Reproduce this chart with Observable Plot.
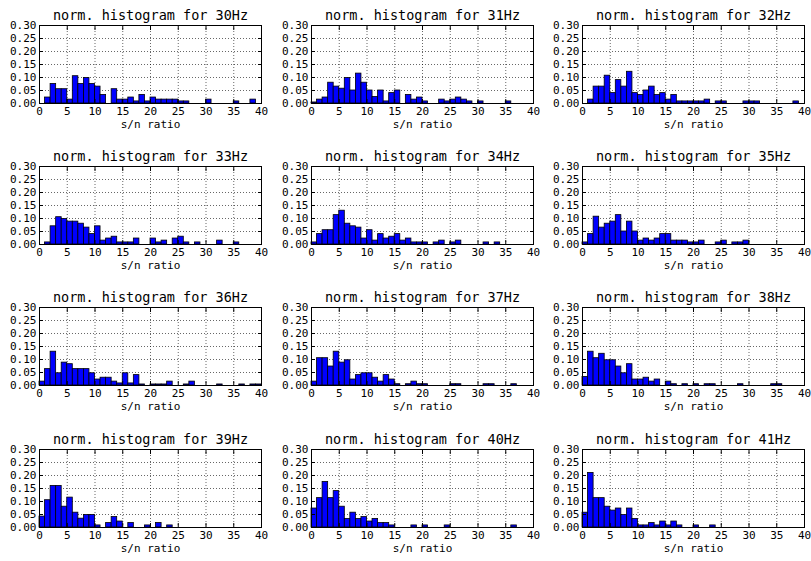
<!DOCTYPE html>
<html>
<head>
<meta charset="utf-8">
<script src="https://cdn.jsdelivr.net/npm/d3@7"></script>
<script src="https://cdn.jsdelivr.net/npm/@observablehq/plot@0.6"></script>
<style>
  html, body { margin: 0; padding: 0; background: #fff; }
  #wrap { position: relative; width: 811px; height: 561px; background: #fff; overflow: hidden; }
  #wrap svg { position: absolute; }
</style>
</head>
<body>
<div id="wrap"></div>
<script>
// Frequencies of the 12 panels
const freqs = ["30Hz","31Hz","32Hz","33Hz","34Hz","35Hz","36Hz","37Hz","38Hz","39Hz","40Hz","41Hz"];
// Bin edges: 40 bins of width 1 from 0 to 40 (s/n ratio)
const binStart = 0;
const binWidth = 1;
// Normalized histogram heights per bin (index 0..39)
const h30 = [0,0.023,0.075,0.055,0.055,0.015,0.105,0.075,0.098,0.075,0.065,0.033,0,0.055,0.015,0.015,0.023,0.008,0.033,0.008,0.023,0.015,0.015,0.015,0.015,0.008,0.008,0,0,0,0.015,0,0,0,0,0.008,0,0,0.015,0];
const h31 = [0.004,0.015,0.023,0.08,0.065,0.057,0.098,0.05,0.115,0.08,0.05,0.025,0.05,0.008,0.04,0.05,0,0.033,0.015,0.023,0.008,0,0,0.015,0.008,0.015,0.023,0.015,0.008,0,0.008,0,0,0,0,0.008,0,0,0,0];
const h32 = [0,0.015,0.065,0.065,0.107,0.04,0.09,0.065,0.122,0.04,0.033,0.05,0.065,0.033,0.04,0.015,0.033,0.008,0.008,0.008,0.008,0.008,0.015,0,0.008,0.008,0,0,0,0.008,0.008,0.008,0,0,0,0,0,0,0.008,0];
const h33 = [0,0.008,0.07,0.105,0.098,0.088,0.088,0.08,0.065,0.04,0.07,0.015,0.023,0.03,0.008,0.008,0.008,0.023,0,0,0.023,0.008,0.015,0,0.023,0.03,0.008,0,0.008,0,0,0,0.015,0,0,0.008,0,0,0,0];
const h34 = [0.008,0.04,0.055,0.055,0.113,0.13,0.08,0.07,0.065,0.023,0.055,0.015,0.04,0.023,0.03,0.04,0.015,0.023,0.008,0.008,0.008,0,0.008,0.015,0,0.008,0.015,0,0,0,0,0.008,0,0.008,0,0,0,0,0,0];
const h35 = [0.008,0.04,0.107,0.065,0.08,0.088,0.113,0.05,0.088,0.05,0.015,0.023,0.015,0.023,0.04,0.04,0.015,0.015,0.015,0.008,0.008,0.015,0,0,0.008,0.015,0,0.008,0.008,0.015,0,0,0,0,0,0,0,0,0,0];
const h36 = [0.015,0.063,0.13,0.047,0.088,0.082,0.063,0.063,0.063,0.047,0.023,0.03,0.03,0.015,0.008,0.047,0.008,0.04,0.004,0,0.004,0.004,0.004,0.015,0,0,0.004,0.015,0,0,0,0,0.004,0,0,0,0.004,0,0.004,0.004];
const h37 = [0.015,0.105,0.105,0.073,0.13,0.088,0.097,0.023,0.04,0.047,0.047,0.03,0.015,0.04,0.023,0.005,0,0.005,0.015,0.005,0.005,0,0,0,0,0.005,0.005,0,0,0,0,0.005,0.005,0,0,0,0.005,0,0,0];
const h38 = [0.033,0.13,0.105,0.122,0.097,0.097,0.073,0.047,0.082,0.023,0.023,0.03,0.015,0.023,0,0.015,0.005,0,0.005,0,0.005,0,0.005,0.005,0,0,0,0,0.005,0,0,0,0,0,0.005,0.005,0,0,0,0];
const h39 = [0.042,0.105,0.16,0.16,0.08,0.115,0.057,0.034,0.048,0.048,0.008,0,0.017,0.04,0.023,0,0.017,0,0,0.008,0,0.017,0,0.008,0,0,0,0,0,0,0,0,0,0,0,0,0,0,0,0];
const h40 = [0.073,0.113,0.175,0.113,0.14,0.08,0.033,0.057,0.033,0.04,0.023,0.033,0.017,0.017,0.008,0,0,0,0.008,0,0.008,0,0,0,0.008,0,0,0,0,0,0,0,0,0,0,0,0.008,0,0,0];
const h41 = [0.057,0.21,0.113,0.113,0.08,0.065,0.073,0.048,0.073,0.033,0.008,0.008,0.017,0.008,0.023,0.008,0.023,0.008,0,0,0.008,0,0,0.008,0,0,0,0,0,0,0,0,0,0,0,0,0,0,0,0];
const series = [h30,h31,h32,h33,h34,h35,h36,h37,h38,h39,h40,h41];
// Axis ticks
const xTicks = [0,5,10,15,20,25,30,35,40];
const yTicks = [0,0.05,0.10,0.15,0.20,0.25,0.30];

// Layout of the 4x3 grid (plot-area positions in the page)
const colLeft = [39, 311, 582];
const rowTop = [25, 166, 307, 449];
const innerW = 222, innerH = 78;
const mL = 40, mR = 6, mT = 26, mB = 36;

const wrap = document.getElementById("wrap");
const font = "'DejaVu Sans Mono', monospace";

series.forEach((vals, i) => {
  const bins = vals.map((v, k) => ({x1: binStart + k * binWidth, x2: binStart + (k + 1) * binWidth, y: v})).filter(d => d.y > 0);
  const r = Math.floor(i / 3), c = i % 3;
  const svg = Plot.plot({
    width: innerW + mL + mR,
    height: innerH + mT + mB,
    marginLeft: mL, marginRight: mR, marginTop: mT, marginBottom: mB,
    style: {fontFamily: font, fontSize: "11px", background: "transparent", color: "black", overflow: "visible"},
    x: {domain: [0, 40]},
    y: {domain: [0, 0.3]},
    marks: [
      Plot.gridX(xTicks, {stroke: "black", strokeOpacity: 1, strokeWidth: 0.6, strokeDasharray: "1,2"}),
      Plot.gridY(yTicks, {stroke: "black", strokeOpacity: 1, strokeWidth: 0.6, strokeDasharray: "1,2"}),
      Plot.rectY(bins, {x1: "x1", x2: "x2", y: "y", fill: "#0000ff", stroke: "black", strokeWidth: 0.8}),
      Plot.frame({stroke: "black", strokeWidth: 1}),
      Plot.axisX(xTicks, {anchor: "bottom", tickSize: -4, tickPadding: 8, fontSize: 11, label: "s/n ratio", labelAnchor: "center", labelArrow: "none", labelOffset: 24}),
      Plot.axisX(xTicks, {anchor: "top", tickSize: -4, tickFormat: () => "", label: null}),
      Plot.axisY(yTicks, {anchor: "left", tickSize: -4, tickPadding: 7, tickFormat: d3.format(".2f"), fontSize: 11, label: null}),
      Plot.axisY(yTicks, {anchor: "right", tickSize: -4, tickFormat: () => "", label: null}),
      Plot.text(["norm. histogram for " + freqs[i]], {frameAnchor: "top", dy: -6, lineAnchor: "bottom", fontSize: 13.5, fill: "black"})
    ]
  });
  svg.style.left = (colLeft[c] - mL) + "px";
  svg.style.top = (rowTop[r] - mT) + "px";
  wrap.appendChild(svg);
});
</script>
</body>
</html>
